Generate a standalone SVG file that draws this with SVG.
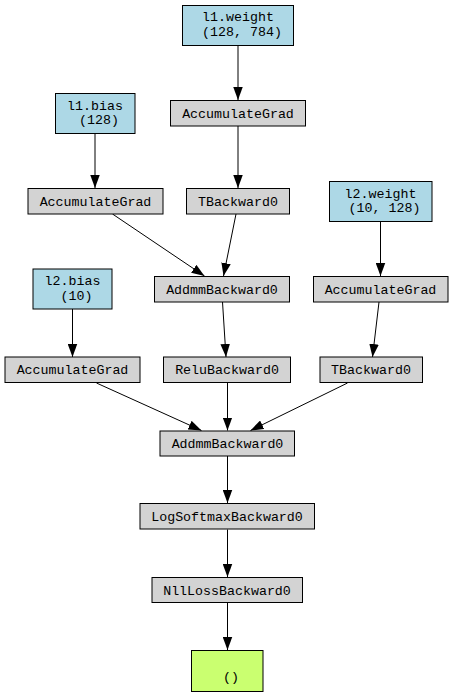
<svg xmlns="http://www.w3.org/2000/svg" width="453" height="697" viewBox="0 0 453 697">
<style>
text{font-family:"Liberation Mono","DejaVu Sans Mono",monospace;font-size:13.3px;fill:#000;text-anchor:middle}
.p rect{fill:#add8e6;stroke:#000;stroke-width:1}
.g rect{fill:#d3d3d3;stroke:#000;stroke-width:1}
.o rect{fill:#caff70;stroke:#000;stroke-width:1}
#edges line{stroke:#000;stroke-width:1;marker-end:url(#ah)}
</style>
<defs>
<marker id="ah" markerUnits="userSpaceOnUse" markerWidth="13" markerHeight="10" refX="13" refY="4.75" orient="auto" viewBox="0 0 13 9.5">
<path d="M0,0 L13,4.75 L0,9.5 Z" fill="#000"/>
</marker>
</defs>
<rect width="453" height="697" fill="#fff"/>
<g id="edges">
<line x1="238" y1="45" x2="238" y2="100"/>
<line x1="238" y1="126" x2="238" y2="188"/>
<line x1="95" y1="133" x2="95" y2="188"/>
<line x1="112.5" y1="214" x2="204.5" y2="276"/>
<line x1="236" y1="214" x2="223.5" y2="276"/>
<line x1="380.5" y1="221" x2="380.5" y2="276"/>
<line x1="222.5" y1="302" x2="226" y2="357"/>
<line x1="379" y1="302" x2="372.5" y2="357"/>
<line x1="72.5" y1="309" x2="72.5" y2="357"/>
<line x1="96.5" y1="383" x2="201.5" y2="430.5"/>
<line x1="227.5" y1="383" x2="227.5" y2="430.5"/>
<line x1="347.5" y1="383" x2="250.5" y2="430.5"/>
<line x1="227.5" y1="456" x2="227.5" y2="503"/>
<line x1="227.5" y1="529.5" x2="227.5" y2="577"/>
<line x1="227.5" y1="603" x2="227.5" y2="650"/>
</g>
<g id="l1_weight" class="p"><rect x="182.5" y="5.5" width="111" height="40"/><text x="238" y="21" xml:space="preserve">l1.weight</text><text x="238" y="35.5" xml:space="preserve"> (128, 784)</text></g>
<g id="acc_w1" class="g"><rect x="170.5" y="100.5" width="135" height="25.5"/><text x="238" y="117.5">AccumulateGrad</text></g>
<g id="l1_bias" class="p"><rect x="55.5" y="93.5" width="79.5" height="40"/><text x="95" y="109.5" xml:space="preserve">l1.bias</text><text x="95" y="124" xml:space="preserve"> (128)</text></g>
<g id="acc_b1" class="g"><rect x="28" y="188.5" width="135" height="25.5"/><text x="95.5" y="205.5">AccumulateGrad</text></g>
<g id="tback1" class="g"><rect x="186.5" y="188.5" width="103" height="25.5"/><text x="238" y="205.5">TBackward0</text></g>
<g id="l2_weight" class="p"><rect x="329.5" y="181.5" width="102.5" height="40"/><text x="380.5" y="197.5" xml:space="preserve">l2.weight</text><text x="380.5" y="212" xml:space="preserve"> (10, 128)</text></g>
<g id="addmm1" class="g"><rect x="154.5" y="276.5" width="135" height="25.5"/><text x="222" y="293.5">AddmmBackward0</text></g>
<g id="acc_w2" class="g"><rect x="313.5" y="276.5" width="134.5" height="25.5"/><text x="380.5" y="293.5">AccumulateGrad</text></g>
<g id="l2_bias" class="p"><rect x="33" y="269" width="79" height="40"/><text x="72.5" y="285" xml:space="preserve">l2.bias</text><text x="72.5" y="299.5" xml:space="preserve"> (10)</text></g>
<g id="acc_b2" class="g"><rect x="5" y="357" width="135" height="25.5"/><text x="72.5" y="374">AccumulateGrad</text></g>
<g id="relu" class="g"><rect x="163.5" y="357" width="127" height="25.5"/><text x="227" y="374">ReluBackward0</text></g>
<g id="tback2" class="g"><rect x="320" y="357" width="102.5" height="25.5"/><text x="371" y="374">TBackward0</text></g>
<g id="addmm2" class="g"><rect x="160" y="431" width="134.5" height="25"/><text x="227.5" y="448">AddmmBackward0</text></g>
<g id="logsoftmax" class="g"><rect x="140" y="503.5" width="174.5" height="25.5"/><text x="227" y="520.5">LogSoftmaxBackward0</text></g>
<g id="nllloss" class="g"><rect x="152" y="577.5" width="150.5" height="25"/><text x="227" y="594.5">NllLossBackward0</text></g>
<g id="output" class="o"><rect x="191.5" y="650.5" width="71.5" height="41"/><text x="227" y="680.5" xml:space="preserve"> ()</text></g>
</svg>
